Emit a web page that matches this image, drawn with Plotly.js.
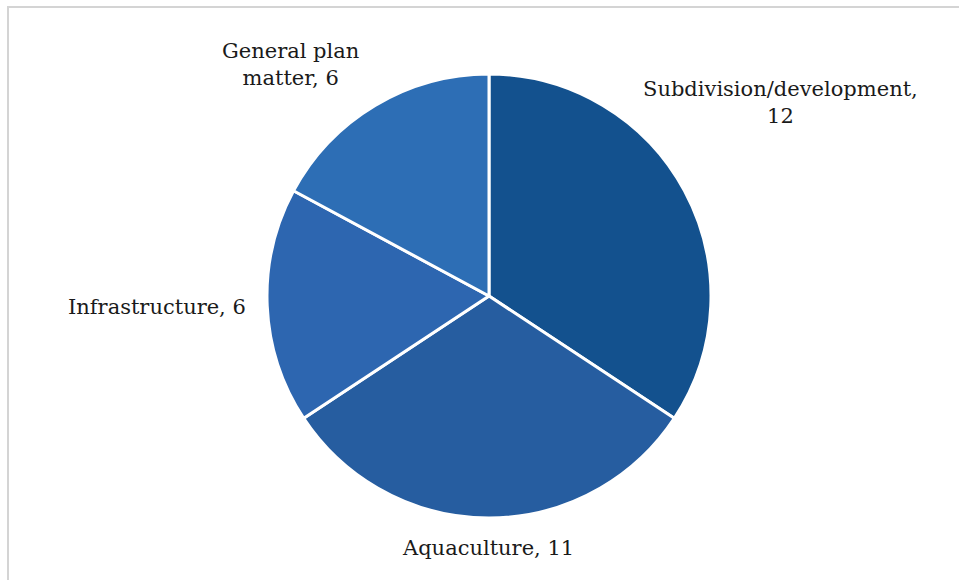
<!DOCTYPE html>
<html>
<head>
<meta charset="utf-8">
<script src="https://cdn.plot.ly/plotly-3.0.1.min.js"></script>
<style>
  html, body { margin: 0; padding: 0; background: #fff; }
  #wrap { position: relative; width: 959px; height: 580px; overflow: hidden; }
  #chart { width: 959px; height: 580px; }
  .bt { position: absolute; left: 7px; top: 6px; width: 952px; height: 2px; background: #d4d4d4; }
  .bl { position: absolute; left: 7px; top: 6px; width: 2px; height: 574px; background: #d4d4d4; }
</style>
</head>
<body>
<div id="wrap">
  <div id="chart"></div>
  <div class="bt"></div>
  <div class="bl"></div>
</div>
<script>
const categories = ["Subdivision/development", "Aquaculture", "Infrastructure", "General plan matter"];
const values = [12, 11, 6, 6];
const labelTexts = ["Subdivision/development,<br>12", "Aquaculture, 11", "Infrastructure, 6", "General plan<br>matter, 6"];
const colors = ["#13518e", "#265da0", "#2d66b0", "#2d6eb5"];

// label anchor positions (paper fraction)
const labelPos = [
  {x: 780 / 959, y: 1 - 103 / 580},
  {x: 488 / 959, y: 1 - 548 / 580},
  {x: 157 / 959, y: 1 - 307 / 580},
  {x: 290 / 959, y: 1 - 65 / 580}
];

const W = 959, H = 580;
const cx = 489, cy = 296, r = 222;

const trace = {
  type: "pie",
  labels: categories,
  values: values,
  sort: false,
  direction: "clockwise",
  rotation: 0,
  textinfo: "none",
  hoverinfo: "label+value",
  marker: { colors: colors, line: { color: "#ffffff", width: 3 } },
  domain: { x: [(cx - r) / W, (cx + r) / W], y: [1 - (cy + r) / H, 1 - (cy - r) / H] }
};

const annotations = labelTexts.map((t, i) => ({
  text: t,
  x: labelPos[i].x,
  y: labelPos[i].y,
  xref: "paper",
  yref: "paper",
  showarrow: false,
  xanchor: "center",
  yanchor: "middle",
  align: "center",
  font: { family: "DejaVu Serif, serif", size: 21, color: "#1a1a1a" }
}));

const layout = {
  width: W,
  height: H,
  margin: { l: 0, r: 0, t: 0, b: 0 },
  showlegend: false,
  paper_bgcolor: "#ffffff",
  annotations: annotations
};

Plotly.newPlot("chart", [trace], layout, { displayModeBar: false, staticPlot: true });
</script>
</body>
</html>
